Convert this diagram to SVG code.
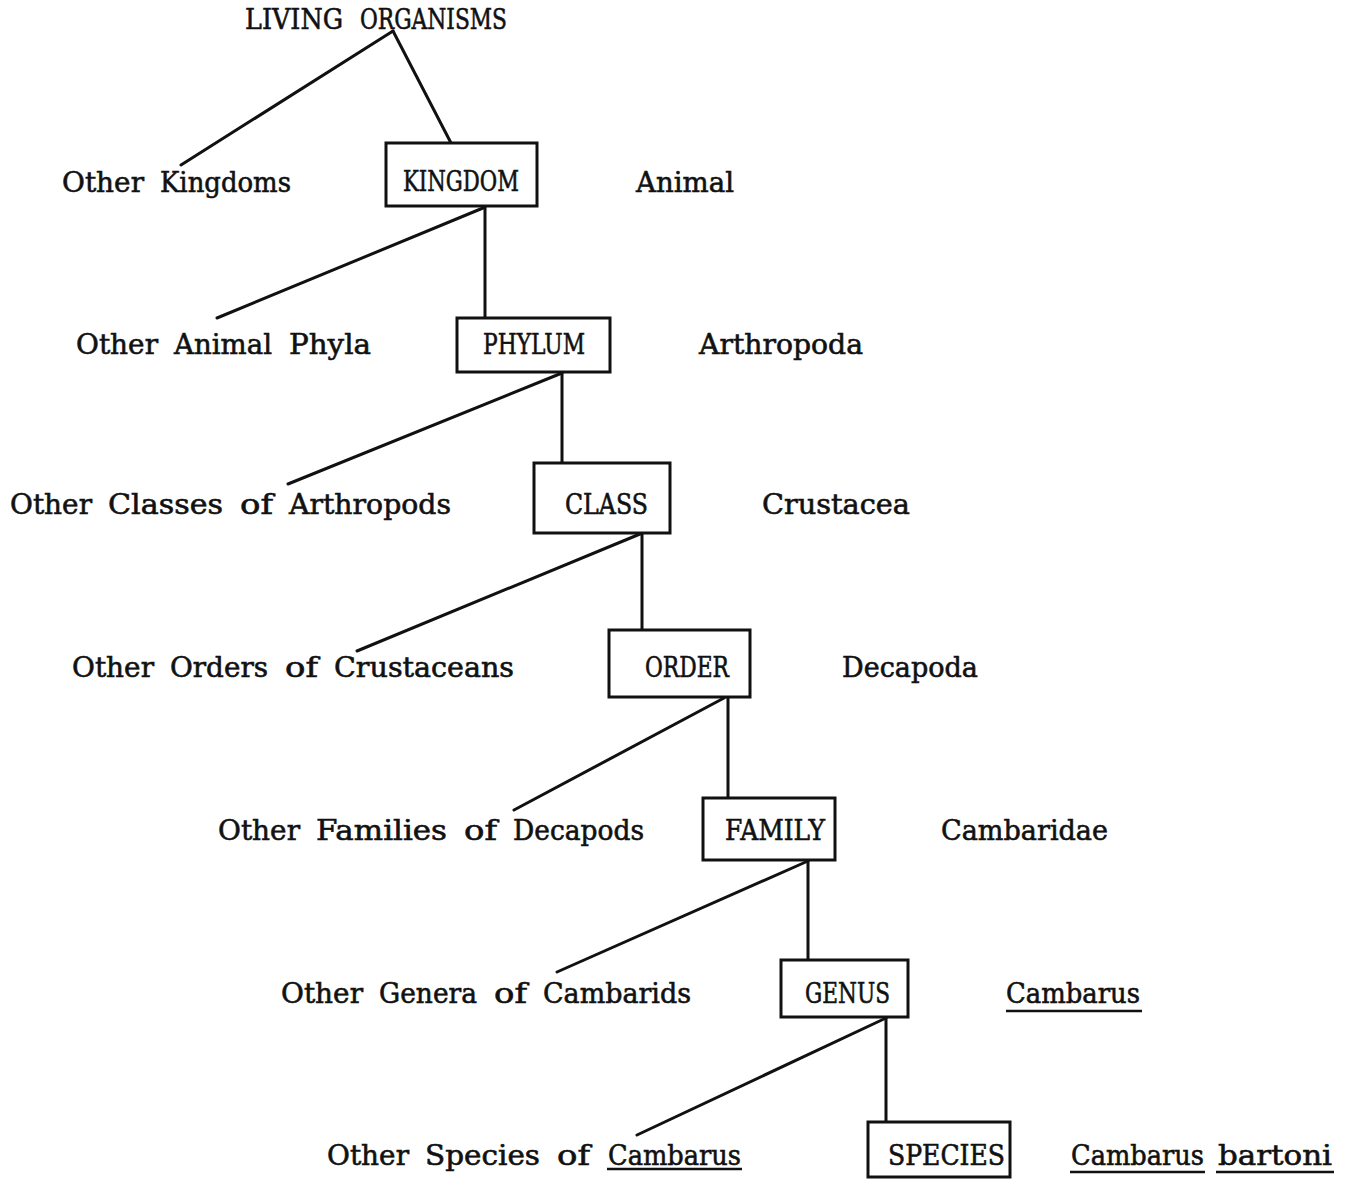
<svg xmlns="http://www.w3.org/2000/svg" width="1350" height="1179" viewBox="0 0 1350 1179">
<style>
.t{font-family:"DejaVu Serif","Liberation Serif",serif;font-size:28px;fill:#111;stroke:#111;stroke-width:0.6px}
.box{fill:#fff;stroke:#111;stroke-width:3}
.ln{stroke:#111;stroke-width:3;fill:none;stroke-linecap:round}
.ul{stroke:#111;stroke-width:2.5}
</style>
<rect width="1350" height="1179" fill="#fff"/>
<g id="connectors">
<line class="ln" x1="393" y1="31" x2="181" y2="165"/>
<line class="ln" x1="393" y1="31" x2="451" y2="143"/>
<line class="ln" x1="485" y1="206" x2="485" y2="318"/>
<line class="ln" x1="483" y1="208" x2="217" y2="318"/>
<line class="ln" x1="562" y1="372" x2="562" y2="463"/>
<line class="ln" x1="562" y1="373" x2="288" y2="484"/>
<line class="ln" x1="642" y1="533" x2="642" y2="630"/>
<line class="ln" x1="640" y1="534" x2="357" y2="651"/>
<line class="ln" x1="728" y1="697" x2="728" y2="798"/>
<line class="ln" x1="724" y1="698" x2="514" y2="810"/>
<line class="ln" x1="808" y1="860" x2="808" y2="960"/>
<line class="ln" x1="808" y1="861" x2="557" y2="972"/>
<line class="ln" x1="886" y1="1017" x2="886" y2="1122"/>
<line class="ln" x1="886" y1="1018" x2="637" y2="1135"/>
</g>
<g id="root">
<text class="t" x="245" y="29" textLength="98" lengthAdjust="spacingAndGlyphs">LIVING</text>
<text class="t" x="360" y="29" textLength="147" lengthAdjust="spacingAndGlyphs">ORGANISMS</text>
</g>
<g id="other-kingdoms">
<text class="t" x="62" y="192" textLength="82" lengthAdjust="spacingAndGlyphs">Other</text>
<text class="t" x="160" y="192" textLength="131" lengthAdjust="spacingAndGlyphs">Kingdoms</text>
</g>
<g id="kingdom"><rect class="box" x="386" y="143" width="151" height="63"/><text class="t" x="403" y="191" textLength="116" lengthAdjust="spacingAndGlyphs">KINGDOM</text></g>
<g id="animal"><text class="t" x="636" y="192" textLength="98" lengthAdjust="spacingAndGlyphs">Animal</text></g>
<g id="other-phyla">
<text class="t" x="76" y="354" textLength="82" lengthAdjust="spacingAndGlyphs">Other</text>
<text class="t" x="174" y="354" textLength="98" lengthAdjust="spacingAndGlyphs">Animal</text>
<text class="t" x="289" y="354" textLength="82" lengthAdjust="spacingAndGlyphs">Phyla</text>
</g>
<g id="phylum"><rect class="box" x="457" y="318" width="153" height="54"/><text class="t" x="483" y="354" textLength="102" lengthAdjust="spacingAndGlyphs">PHYLUM</text></g>
<g id="arthropoda"><text class="t" x="699" y="354" textLength="164" lengthAdjust="spacingAndGlyphs">Arthropoda</text></g>
<g id="other-classes">
<text class="t" x="10" y="514" textLength="82" lengthAdjust="spacingAndGlyphs">Other</text>
<text class="t" x="108" y="514" textLength="115" lengthAdjust="spacingAndGlyphs">Classes</text>
<text class="t" x="240" y="514" textLength="33" lengthAdjust="spacingAndGlyphs">of</text>
<text class="t" x="289" y="514" textLength="162" lengthAdjust="spacingAndGlyphs">Arthropods</text>
</g>
<g id="class"><rect class="box" x="534" y="463" width="136" height="70"/><text class="t" x="565" y="514" textLength="83" lengthAdjust="spacingAndGlyphs">CLASS</text></g>
<g id="crustacea"><text class="t" x="762" y="514" textLength="148" lengthAdjust="spacingAndGlyphs">Crustacea</text></g>
<g id="other-orders">
<text class="t" x="72" y="677" textLength="82" lengthAdjust="spacingAndGlyphs">Other</text>
<text class="t" x="170" y="677" textLength="98" lengthAdjust="spacingAndGlyphs">Orders</text>
<text class="t" x="285" y="677" textLength="33" lengthAdjust="spacingAndGlyphs">of</text>
<text class="t" x="334" y="677" textLength="180" lengthAdjust="spacingAndGlyphs">Crustaceans</text>
</g>
<g id="order"><rect class="box" x="609" y="630" width="141" height="67"/><text class="t" x="645" y="677" textLength="84" lengthAdjust="spacingAndGlyphs">ORDER</text></g>
<g id="decapoda"><text class="t" x="842" y="677" textLength="136" lengthAdjust="spacingAndGlyphs">Decapoda</text></g>
<g id="other-families">
<text class="t" x="218" y="840" textLength="82" lengthAdjust="spacingAndGlyphs">Other</text>
<text class="t" x="316" y="840" textLength="131" lengthAdjust="spacingAndGlyphs">Families</text>
<text class="t" x="464" y="840" textLength="33" lengthAdjust="spacingAndGlyphs">of</text>
<text class="t" x="513" y="840" textLength="131" lengthAdjust="spacingAndGlyphs">Decapods</text>
</g>
<g id="family"><rect class="box" x="703" y="798" width="132" height="62"/><text class="t" x="725" y="840" textLength="100" lengthAdjust="spacingAndGlyphs">FAMILY</text></g>
<g id="cambaridae"><text class="t" x="941" y="840" textLength="167" lengthAdjust="spacingAndGlyphs">Cambaridae</text></g>
<g id="other-genera">
<text class="t" x="281" y="1003" textLength="82" lengthAdjust="spacingAndGlyphs">Other</text>
<text class="t" x="379" y="1003" textLength="98" lengthAdjust="spacingAndGlyphs">Genera</text>
<text class="t" x="494" y="1003" textLength="33" lengthAdjust="spacingAndGlyphs">of</text>
<text class="t" x="543" y="1003" textLength="148" lengthAdjust="spacingAndGlyphs">Cambarids</text>
</g>
<g id="genus"><rect class="box" x="781" y="960" width="127" height="57"/><text class="t" x="805" y="1003" textLength="85" lengthAdjust="spacingAndGlyphs">GENUS</text></g>
<g id="cambarus"><text class="t" x="1006" y="1003" textLength="134" lengthAdjust="spacingAndGlyphs">Cambarus</text><line class="ul" x1="1006" y1="1011" x2="1142" y2="1011"/></g>
<g id="other-species">
<text class="t" x="327" y="1165" textLength="82" lengthAdjust="spacingAndGlyphs">Other</text>
<text class="t" x="425" y="1165" textLength="115" lengthAdjust="spacingAndGlyphs">Species</text>
<text class="t" x="557" y="1165" textLength="33" lengthAdjust="spacingAndGlyphs">of</text>
<text class="t" x="608" y="1165" textLength="133" lengthAdjust="spacingAndGlyphs">Cambarus</text>
<line class="ul" x1="607" y1="1169" x2="742" y2="1169"/>
</g>
<g id="species"><rect class="box" x="868" y="1122" width="142" height="55"/><text class="t" x="888" y="1165" textLength="117" lengthAdjust="spacingAndGlyphs">SPECIES</text></g>
<g id="cambarus-bartoni">
<text class="t" x="1071" y="1165" textLength="133" lengthAdjust="spacingAndGlyphs">Cambarus</text>
<text class="t" x="1218" y="1165" textLength="114" lengthAdjust="spacingAndGlyphs">bartoni</text>
<line class="ul" x1="1070" y1="1172" x2="1205" y2="1172"/><line class="ul" x1="1216" y1="1172" x2="1334" y2="1172"/>
</g>
</svg>
